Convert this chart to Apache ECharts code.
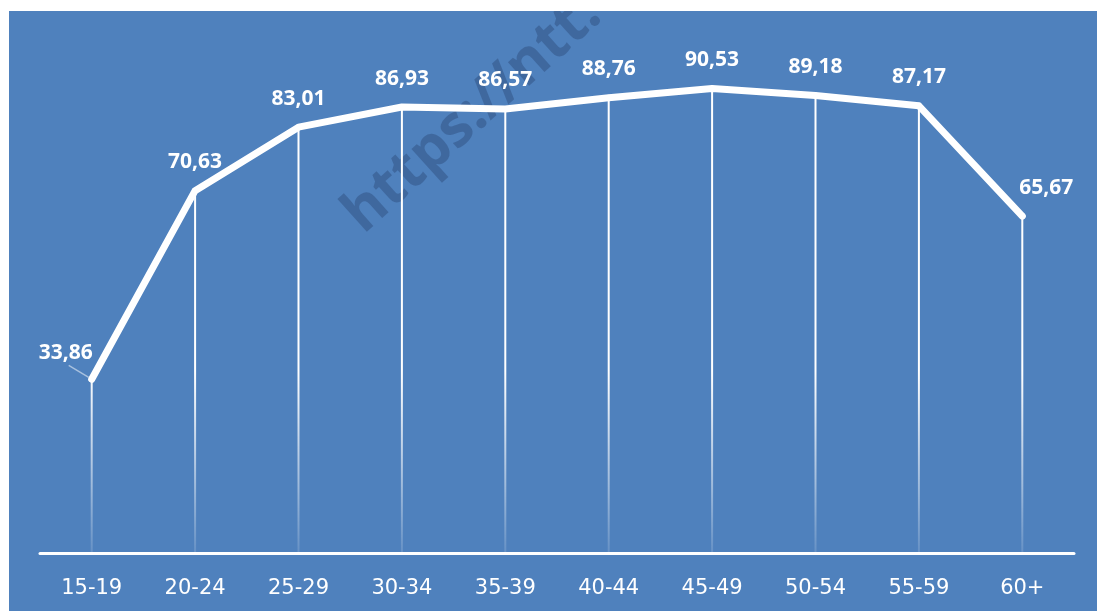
<!DOCTYPE html>
<html>
<head>
<meta charset="utf-8">
<script src="https://cdn.jsdelivr.net/npm/echarts@6/dist/echarts.min.js"></script>
<style>
  html, body { margin: 0; padding: 0; background: #fff; }
  #chart { position: absolute; left: 9px; top: 11px; width: 1088px; height: 600px; background: #4f81bd; }
</style>
</head>
<body>
<div id="chart"></div>
<script>
// age groups and their values
const ageGroups = ['15-19', '20-24', '25-29', '30-34', '35-39', '40-44', '45-49', '50-54', '55-59', '60+'];
const rates = [33.86, 70.63, 83.01, 86.93, 86.57, 88.76, 90.53, 89.18, 87.17, 65.67];

const fmt = (v) => v.toFixed(2).replace('.', ',');

const chart = echarts.init(document.getElementById('chart'), null, { renderer: 'canvas' });

// drop lines fade out toward the axis (global pixel gradient so every stem fades at the same height)
const stemFade = {
  type: 'linear', x: 0, y: 360, x2: 0, y2: 545, global: true,
  colorStops: [
    { offset: 0, color: 'rgba(255,255,255,1)' },
    { offset: 1, color: 'rgba(255,255,255,0.12)' },
  ],
};

const watermark = {
  id: 'watermark',
  type: 'text',
  z: -1,
  x: 324, y: 190,
  rotation: Math.PI * 42 / 180,
  style: {
    text: 'https://ntt.vn',
    font: 'bold 58px "Open Sans", sans-serif',
    textBaseline: 'alphabetic',
    fill: 'rgba(25,45,85,0.3)',
  },
};

chart.setOption({
  animation: false,
  graphic: [watermark],
  grid: { left: 31, right: 23, top: 29, bottom: 58 },
  xAxis: {
    type: 'category',
    data: ageGroups,
    boundaryGap: true,
    axisLine: { lineStyle: { color: '#fff', width: 3 } },
    axisTick: { show: false },
    axisLabel: {
      color: '#fff',
      fontFamily: 'DejaVu Sans',
      fontSize: 21,
      margin: 25,
    },
  },
  yAxis: { type: 'value', min: 0, max: 100, show: false, splitLine: { show: false } },
  series: [
    {
      type: 'bar',
      data: rates,
      barWidth: 2,
      itemStyle: { color: stemFade },
      silent: true,
      z: 1,
    },
    {
      type: 'line',
      z: 3,
      symbol: 'circle',
      symbolSize: 6,
      itemStyle: { color: '#fff' },
      data: rates,
      lineStyle: { color: '#fff', width: 7, join: 'round', cap: 'round' },
      label: {
        show: true,
        position: 'top',
        distance: 15,
        color: '#fff',
        fontFamily: 'Open Sans',
        fontWeight: 'bold',
        fontSize: 21,
        formatter: (p) => fmt(p.value),
      },
      // first label sits up-left of its point, last one a bit to the right
      labelLayout: (p) => {
        if (p.dataIndex === 0) return { dx: -26, dy: 2 };
        if (p.dataIndex === rates.length - 1) return { dx: 24 };
        return {};
      },
    },
  ],
});

// leader line from the moved first label back to its point
const [px, py] = chart.convertToPixel({ seriesIndex: 1 }, [0, rates[0]]);
chart.setOption({
  graphic: [watermark, {
    type: 'line',
    z: 2,
    shape: { x1: px - 23, y1: py - 14, x2: px - 3, y2: py - 2 },
    style: { stroke: 'rgba(255,255,255,0.5)', lineWidth: 1.5 },
  }],
});
</script>
</body>
</html>
